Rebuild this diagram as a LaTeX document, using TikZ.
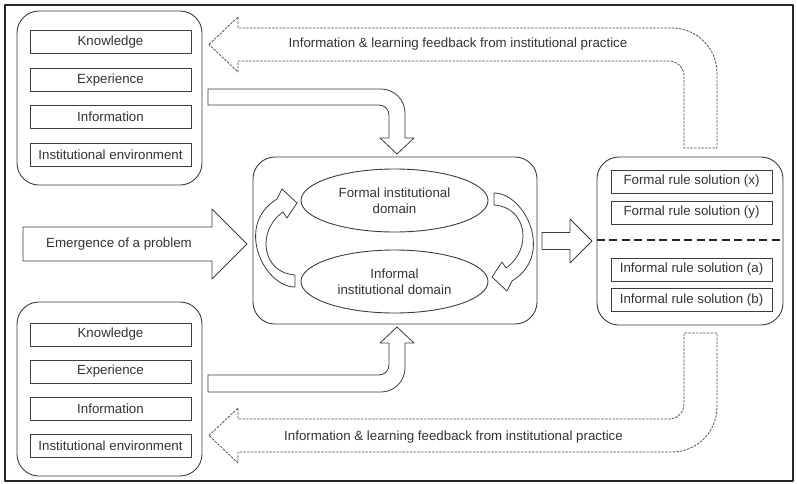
\documentclass[tikz,border=0pt]{standalone}
\usepackage{fontspec}
\setmainfont{Liberation Sans}
\usetikzlibrary{shapes.geometric}
\definecolor{ink}{HTML}{3C3C3C}
\definecolor{txt}{HTML}{333333}
\definecolor{fbk}{HTML}{505050}
\begin{document}
\begin{tikzpicture}[x=1pt, y=-1pt, line join=round, font=\fontsize{13.3}{16}\selectfont, text=txt,
	grp/.style={draw=ink, line width=.9pt, rounded corners=22pt},
	item/.style={draw=ink, line width=.9pt, minimum width=161pt, minimum height=23pt, inner sep=0pt},
	dom/.style={draw=ink, line width=.9pt, ellipse, minimum width=187pt, minimum height=63pt, align=center, inner sep=0pt},
	blk/.style={draw=ink, line width=.8pt, fill=white},
	fb/.style={draw=fbk, line width=.8pt, dash pattern=on 2.5pt off 1.2pt}]
	\useasboundingbox (0,0) rectangle (797,483);
	\draw[line width=2pt, draw=black!85] (5,5) rectangle (793,481);
	% groups
	\node[grp, minimum width=185pt, minimum height=174pt] (inputa) at (109.5,98) {};
	\node[grp, minimum width=185pt, minimum height=174pt] (inputb) at (109.5,389) {};
	\node[grp, minimum width=284pt, minimum height=167pt] (core) at (395,240.5) {};
	\node[grp, minimum width=186pt, minimum height=168pt] (sol) at (690,241) {};
	\foreach \t [count=\i] in {Knowledge, Experience, Information, Institutional environment} {
		\node[item] (ka\i) at (110.5,5+37.4*\i) {\t};
		\node[item] (kb\i) at (110.5,297.5+37*\i) {\t};
	}
	\foreach \y/\t [count=\i] in {181.5/Formal rule solution (x), 212.5/Formal rule solution (y), 269.5/Informal rule solution (a), 300/Informal rule solution (b)}
		\node[item] (rs\i) at (691.5,\y) {\t};
	\draw[line width=2.2pt, dash pattern=on 8pt off 4.5pt, draw=black!85] (sol.west |- 0,240) -- (sol.east |- 0,240);
	% domains
	\node[dom] (formal) at (394.5,200.5) {Formal institutional\\domain};
	\node[dom] (informal) at (394.5,281.5) {Informal\\institutional domain};
	\foreach \a in {0,180}
		\draw[blk, rotate around={\a:(394.5,240)}] (494,193) .. controls (525,193) and (555,255) .. (512,281) -- (507,291) -- (492,277) -- (502,262) -- (506,268) .. controls (533,249) and (527,207) .. (494,205) -- cycle;
	% block arrows
	\draw[blk] (23,227) -- (212,227) -- (212,209) -- (247,244) -- (212,279) -- (212,261) -- (23,261) -- cycle;
	\node (emerg) at (119,244) {Emergence of a problem};
	\draw[blk] (542,232.5) -- (570,232.5) -- (570,219) -- (592,241) -- (570,263) -- (570,249.5) -- (542,249.5) -- cycle;
	\draw[blk] (208,89) -- (381,89) .. controls (394.25,89) and (405,99.75) .. (405,113) -- (405,138) -- (414,138) -- (397,154) -- (380,138) -- (389,138) -- (389,115) .. controls (389,109.5) and (384.5,105) .. (379,105) -- (208,105) -- cycle;
	\draw[blk] (208,392) -- (381,392) .. controls (394.25,392) and (405,381.25) .. (405,368) -- (405,343) -- (414,343) -- (397,327) -- (380,343) -- (389,343) -- (389,365) .. controls (389,370.5) and (384.5,375) .. (379,375) -- (208,375) -- cycle;
	% feedback
	\draw[fb] (209,44.5) -- (238,17) -- (238,28) -- (672,28) .. controls (696.84,28) and (717,48.16) .. (717,73) -- (717,148) -- (684,148) -- (684,76) .. controls (684,67.72) and (677.28,61) .. (669,61) -- (238,61) -- (238,72) -- cycle;
	\draw[fb] (209,435.5) -- (238,408) -- (238,419) -- (669,419) .. controls (677.28,419) and (684,412.28) .. (684,404) -- (684,333) -- (717,333) -- (717,407) .. controls (717,431.84) and (696.84,452) .. (672,452) -- (238,452) -- (238,463) -- cycle;
	\node (fbtop) at (458,44) {Information \& learning feedback from institutional practice};
	\node (fbbot) at (453.5,437) {Information \& learning feedback from institutional practice};
\end{tikzpicture}
\end{document}
